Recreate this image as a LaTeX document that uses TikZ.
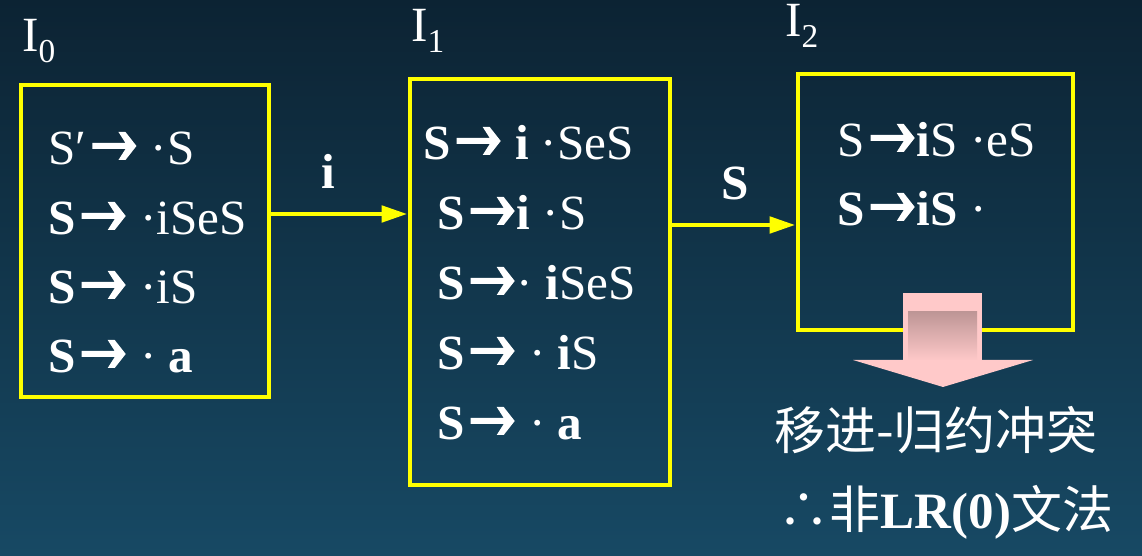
\documentclass[tikz,border=0pt]{standalone}
\usepackage{fontspec}
\usepackage{tikz}
\setmainfont{Liberation Serif}
\newfontfamily\cjk{Noto Sans CJK SC}
\usetikzlibrary{arrows.meta}
\definecolor{BgTop}{RGB}{12,35,51}
\definecolor{BgBot}{RGB}{23,73,100}
\definecolor{ItemBox}{RGB}{255,255,0}
\definecolor{PinkOut}{RGB}{255,201,201}
\definecolor{PinkIn}{RGB}{190,150,150}
% heavy arrow used in the productions
\newcommand{\ar}{\tikz[baseline=0pt]{\path (0,0) (1.04,0);
  \fill[white,xshift=0.12cm] (0,0.44) -- (0.66,0.44) -- (0.52,0.66) -- (0.66,0.66)
  -- (0.88,0.38) -- (0.66,0.10) -- (0.52,0.10) -- (0.66,0.32) -- (0,0.32) -- cycle;}}
\newcommand{\sub}[1]{{\fontsize{19}{20}\selectfont\raisebox{-5.7pt}{#1}}}

\begin{document}
\begin{tikzpicture}[
    itembox/.style={draw=ItemBox, line width=2.8pt, minimum width=#1, inner sep=0pt},
    prod/.style={anchor=base west, inner sep=0pt, text=white, font=\fontsize{28}{30}\selectfont},
    setname/.style={anchor=base west, inner sep=0pt, text=white, font=\fontsize{28}{30}\selectfont},
    edgelabel/.style={inner sep=0pt, anchor=base, text=white, font=\fontsize{28}{30}\selectfont\bfseries},
    goto/.style={draw=ItemBox, line width=2.8pt, -{Triangle[length=5.2mm,width=3.2mm]}},
    note/.style={inner sep=0pt, text=white, font=\fontsize{29}{32}\selectfont}
  ]
  % background
  \shade[top color=BgTop, bottom color=BgBot] (0,0) rectangle (22.84,11.12);
  \useasboundingbox (0,0) rectangle (22.84,11.12);

  % item sets
  \node[itembox=4.96cm, minimum height=6.24cm] (I0box) at (2.90,6.30) {};
  \node[itembox=5.20cm, minimum height=8.12cm] (I1box) at (10.80,5.48) {};
  \node[itembox=5.50cm, minimum height=5.12cm] (I2box) at (18.71,7.08) {};

  \node[setname] (I0) at (0.44,10.08) {I\sub{0}};
  \node[setname] (I1) at (8.22,10.28) {I\sub{1}};
  \node[setname] (I2) at (15.70,10.38) {I\sub{2}};

  % I0
  \node[prod] (p01) at (0.96,7.82) {S′\ar{} ·S};
  \node[prod] (p02) at (0.96,6.42) {\textbf{S}\ar{} ·iSeS};
  \node[prod] (p03) at (0.96,5.04) {\textbf{S}\ar{} ·iS};
  \node[prod] (p04) at (0.96,3.66) {\textbf{S}\ar{} · \textbf{a}};

  % I1
  \node[prod] (p11) at (8.46,7.92) {\textbf{S}\ar{} \textbf{i} ·SeS};
  \node[prod] (p12) at (8.74,6.52) {\textbf{S}\ar\textbf{i} ·S};
  \node[prod] (p13) at (8.74,5.12) {\textbf{S}\ar· \textbf{i}SeS};
  \node[prod] (p14) at (8.74,3.72) {\textbf{S}\ar{} · \textbf{i}S};
  \node[prod] (p15) at (8.74,2.32) {\textbf{S}\ar{} · \textbf{a}};

  % I2
  \node[prod] (p21) at (16.74,7.98) {S\ar\textbf{i}S ·eS};
  \node[prod] (p22) at (16.74,6.60) {\textbf{S}\ar\textbf{iS} ·};

  % transitions
  \coordinate (yi) at (0,6.84);
  \coordinate (yS) at (0,6.62);
  \draw[goto] (I0box.east |- yi) -- (I1box.west |- yi);
  \draw[goto] (I1box.east |- yS) -- (I2box.west |- yS);
  \node[edgelabel] (li) at (6.56,7.34) {i};
  \node[edgelabel] (lS) at (14.70,7.12) {S};

  % conflict arrow
  \fill[PinkOut] (18.06,5.26) rectangle (19.64,3.90);
  \shade[top color=PinkIn, bottom color=PinkOut] (18.16,4.88) rectangle (19.54,3.90);
  \fill[PinkOut] (17.06,3.92) -- (20.66,3.92) -- (18.86,3.38) -- cycle;

  \node[note] (conflict) at (18.72,2.52) {\cjk 移进-归约冲突};
  \node[note] (verdict) at (18.92,0.88) {\cjk ∴非\textbf{\rmfamily LR(0)}文法};
\end{tikzpicture}
\end{document}
